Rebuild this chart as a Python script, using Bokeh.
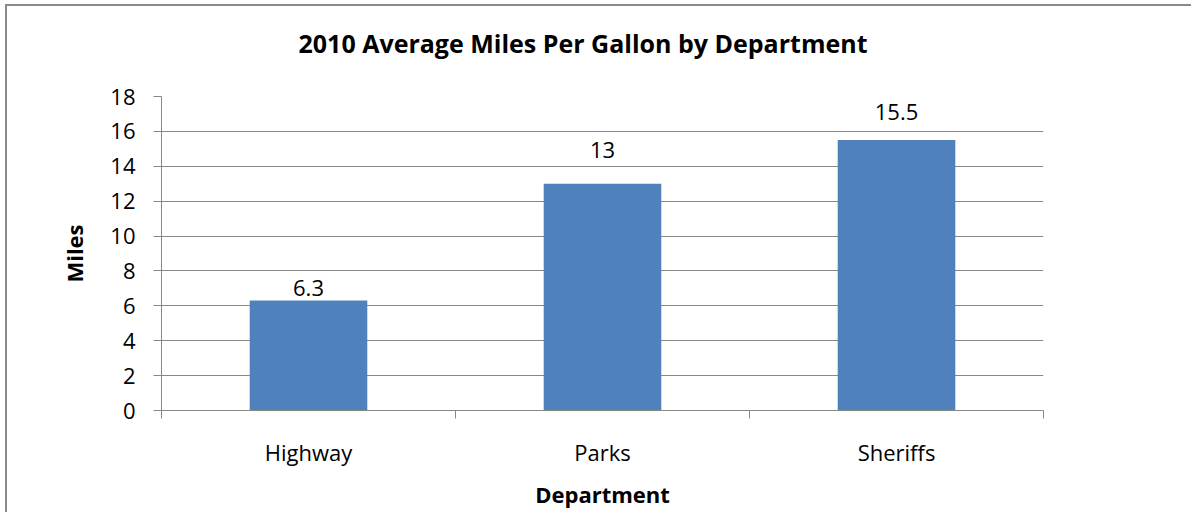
from bokeh.plotting import figure
from bokeh.models import Range1d, FixedTicker, ColumnDataSource, Title
from bokeh.embed import file_html
from bokeh.resources import INLINE

# Data
departments = ["Highway", "Parks", "Sheriffs"]
mpg = [6.3, 13, 15.5]
mpg_labels = ["6.3", "13", "15.5"]
y_ticks = [0, 2, 4, 6, 8, 10, 12, 14, 16, 18]
title_text = "2010 Average Miles Per Gallon by Department"

# label placement (pixels above bar top), style only
label_gap = [-5, -26, -20]

FONT = "Open Sans"
GRAY = "#888888"

centers = [i + 0.5 for i in range(len(departments))]
bounds = [i for i in range(len(departments) + 1)]

src = ColumnDataSource(dict(x=centers, top=mpg, label=mpg_labels, off=label_gap))

p = figure(width=1186, height=508, output_backend="svg", toolbar_location=None,
           x_range=Range1d(0, len(departments)), y_range=Range1d(0, 18),
           min_border_left=154, min_border_top=90, min_border_right=150, min_border_bottom=104,
           margin=(4, 0, 0, 5),
           styles={"border-left": "2px solid #8a8a8a", "border-top": "2px solid #8a8a8a"})

p.title.text = title_text
p.title.text_font = FONT
p.title.text_font_size = "25px"
p.title.text_font_style = "bold"
p.title.text_color = "black"
p.title.align = "left"
p.title.offset = 137
p.title.standoff = 10

# empty spacer panel between the title and the plot area
p.add_layout(Title(text=" ", text_font_size="2px", standoff=28), "above")

p.outline_line_color = None
p.background_fill_color = "white"
p.border_fill_color = "white"

p.vbar(x="x", top="top", width=0.4, source=src, fill_color="#4F81BD", line_color=None)
p.text(x="x", y="top", text="label", source=src, text_align="center", text_baseline="bottom",
       y_offset="off", text_font_size="22px", text_color="black",
       text_font={"value": FONT})

# y axis
p.yaxis.ticker = FixedTicker(ticks=y_ticks)
p.yaxis.axis_line_color = GRAY
p.yaxis.major_tick_line_color = GRAY
p.yaxis.major_tick_out = 8
p.yaxis.major_tick_in = 0
p.yaxis.minor_tick_line_color = None
p.yaxis.major_label_text_font = FONT
p.yaxis.major_label_text_font_size = "22px"
p.yaxis.major_label_text_color = "black"
p.yaxis.major_label_standoff = 18
p.yaxis.axis_label = "Miles"
p.yaxis.axis_label_text_font = FONT
p.yaxis.axis_label_text_font_size = "22px"
p.yaxis.axis_label_text_font_style = "bold"
p.yaxis.axis_label_text_color = "black"
p.yaxis.axis_label_standoff = 18

# x axis
p.xaxis.ticker = FixedTicker(ticks=centers, minor_ticks=bounds)
p.xaxis.major_label_overrides = {c: d for c, d in zip(centers, departments)}
p.xaxis.axis_line_color = GRAY
p.xaxis.major_tick_line_color = None
p.xaxis.major_tick_out = 8
p.xaxis.major_tick_in = 0
p.xaxis.minor_tick_line_color = GRAY
p.xaxis.minor_tick_out = 8
p.xaxis.minor_tick_in = 0
p.xaxis.major_label_text_font = FONT
p.xaxis.major_label_text_font_size = "22px"
p.xaxis.major_label_text_color = "black"
p.xaxis.major_label_standoff = 18
p.xaxis.axis_label = "Department"
p.xaxis.axis_label_text_font = FONT
p.xaxis.axis_label_text_font_size = "22px"
p.xaxis.axis_label_text_font_style = "bold"
p.xaxis.axis_label_text_color = "black"
p.xaxis.axis_label_standoff = 9

p.xgrid.grid_line_color = None
p.ygrid.grid_line_color = GRAY
p.ygrid.ticker = FixedTicker(ticks=y_ticks)

open("out.html", "w").write(file_html(p, INLINE))
